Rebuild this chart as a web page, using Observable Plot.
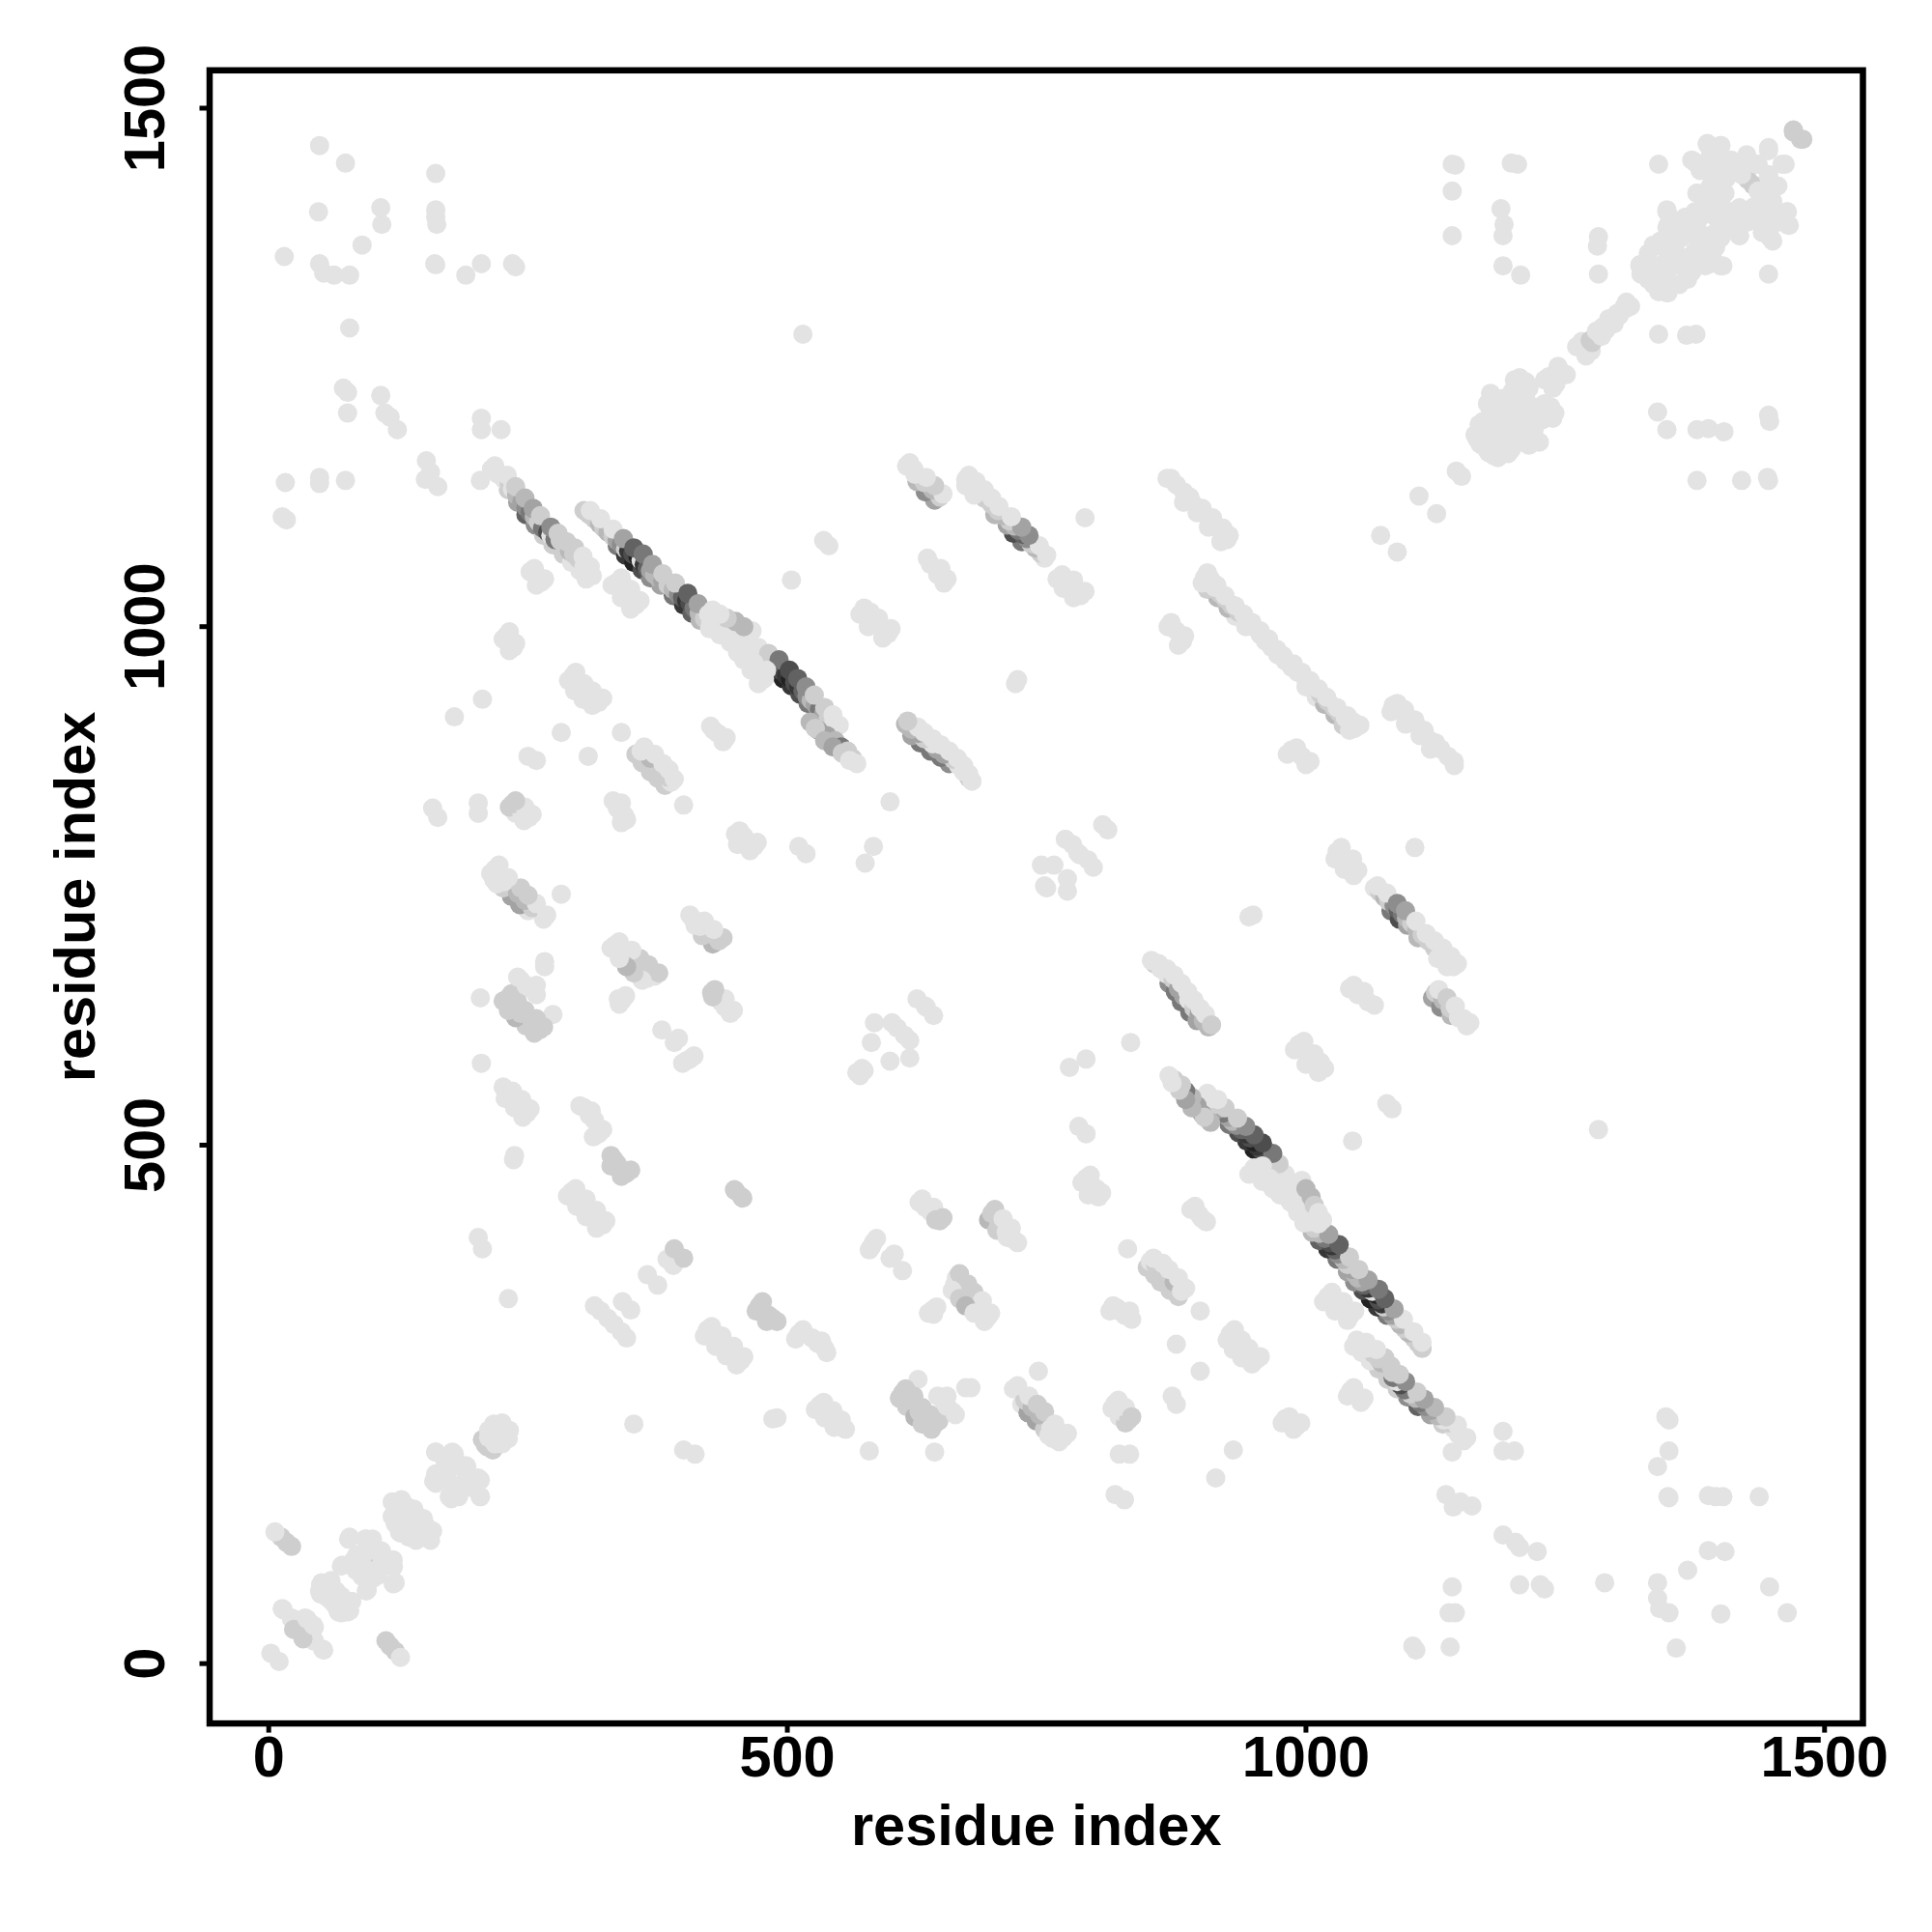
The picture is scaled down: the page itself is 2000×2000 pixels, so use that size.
<!DOCTYPE html>
<html>
<head>
<meta charset="utf-8">
<style>html,body{margin:0;padding:0;background:#fff}svg{display:block}</style>
<script src="https://cdn.jsdelivr.net/npm/d3@7"></script>
<script src="https://cdn.jsdelivr.net/npm/@observablehq/plot@0.6"></script>
</head>
<body>
<div id="chart"></div>
<script>
// each row: residue i, residue j, contact score (0 light .. 9 dark). The map is symmetric: each row also draws as (j, i).
const tickValues = [0, 500, 1000, 1500];
const axisTitle = "residue index";

const clusterLow = [
[2,10,0],[113,22,1],[117,17,1],[122,12,1],[127,6,0],
[13,53,0],[22,44,0],[29,35,1],[35,28,1],[43,22,0],[52,14,0],[35,44,0],[24,33,1],[43,37,0],
[50,76,0],[59,62,0],[50,67,0],[70,49,0],[78,51,0],[65,62,0],[70,65,0],[55,70,0],[60,80,0],[65,55,0],[75,60,0],
[77,120,0],[93,120,0],[70,94,0],[84,90,0],[99,108,1],[109,97,0],[120,94,0],[122,78,0],[95,71,0],[109,108,0],
[85,105,0],[100,120,0],[82,100,0],[90,95,0],[100,85,0],
[122,152,0],[134,151,0],[122,135,0],[138,129,0],[152,122,0],[142,119,0],[127,126,0],[156,119,0],[149,140,0],[130,145,0],[140,140,0],[128,158,0],
[161,204,0],[177,204,0],[161,183,0],[191,190,0],[202,179,0],[174,161,0],[204,161,0],[159,176,0],[184,172,0],[170,195,0],[185,190,0],[168,178,0],[180,165,0],
[216,229,0],[231,217,0],[209,211,1],[216,206,1],[220,220,0],[212,225,0],[225,232,0],[218,212,0],[228,226,0],
[314,345,0],[320,340,0],[327,333,0],[341,349,0],[365,375,0],[384,390,0],[391,400,1],[450,456,1],[457,449,1]
];
const clusterMid = [
[625,641,0],[633,634,0],[584,618,0],[601,618,0],[581,599,0],[572,574,0],[567,570,0],[606,613,0],
[804,809,0],[775,790,0],[782,780,0],[745,770,0],[757,770,0],[748,750,0],[768,795,0]
];
const clusterHighA = [
[1072,1088,0],[1109,1126,0],[1145,1150,0],
[1178,1225,0],[1199,1227,0],[1206,1224,0],[1212,1219,0],[1219,1211,0],[1228,1201,0],[1238,1201,0],
[1171,1198,0],[1183,1188,0],[1163,1185,0],[1176,1168,0],[1192,1175,0],[1199,1198,0],[1180,1211,0],[1189,1211,0],
[1171,1188,0],[1170,1175,0],[1181,1165,0],[1186,1201,0],[1197,1204,0],[1209,1188,0],[1199,1181,0],[1186,1181,0],
[1190,1195,0],[1205,1212,0],[1215,1200,0],[1175,1215,0],[1167,1195,0],[1180,1178,0],[1220,1190,0],[1208,1178,0],[1230,1215,0],[1235,1207,0],[1240,1206,0],[1236,1212,0],
[1232,1238,0],[1245,1247,0],[1238,1230,0],[1251,1243,0],[1241,1234,0],
[1261,1270,0],[1271,1263,0],[1266,1275,0],[1274,1276,1],[1280,1285,0],[1286,1289,0],[1297,1292,0],[1300,1302,0],[1307,1309,0],[1313,1309,0],[1292,1296,0]
];
const clusterHighB = [
[1322,1348,0],[1333,1345,1],[1340,1323,0],[1349,1322,0],[1335,1368,0],[1348,1400,0],[1349,1387,0],[1356,1368,0],
[1372,1387,0],[1379,1368,0],[1392,1355,0],[1402,1348,0],[1367,1341,0],[1385,1348,0],[1377,1418,0],[1389,1403,0],
[1402,1420,0],[1418,1404,0],[1418,1377,0],[1405,1390,0],[1389,1377,0],[1387,1466,0],[1400,1464,0],[1375,1448,0],
[1389,1444,0],[1405,1446,0],[1421,1444,0],[1426,1431,1],[1434,1446,0],[1446,1462,0],[1459,1446,0],[1446,1436,0],
[1436,1420,0],[1446,1418,0],[1446,1402,0],[1464,1400,0],[1465,1387,0],[1439,1387,0],[1447,1376,0],[1470,1479,1],[1477,1470,1],
[1330,1360,0],[1342,1372,0],[1345,1350,0],[1355,1385,0],[1362,1375,0],[1366,1395,0],[1375,1378,0],[1382,1360,0],[1392,1370,0],[1380,1395,0],[1395,1395,0],
[1398,1410,0],[1410,1400,0],[1412,1385,0],[1395,1425,0],[1385,1415,0],[1345,1335,0],[1335,1330,0],[1360,1350,0],[1370,1355,0],[1400,1375,0],[1425,1390,0],
[1432,1405,0],[1440,1410,0],[1450,1425,0],[1410,1450,0],[1425,1455,0],[1380,1440,0],[1393,1460,0],[1455,1390,0],[1440,1395,0],[1450,1372,0]
];
const bandA = [
[231,1132,1],[240,1120,3],[248,1108,6],[257,1098,4],[265,1088,1],[274,1079,1],[284,1070,1],[292,1062,0],[300,1054,0],[306,1046,0],
[215,1152,0],[221,1147,0],[227,1142,0],[232,1137,1],[235,1133,0],[239,1127,2],[244,1120,3],[248,1115,4],[252,1110,5],[256,1106,2],
[260,1101,1],[264,1095,5],[269,1091,7],[272,1088,0],[276,1084,5],[281,1083,1],[286,1077,1],[290,1073,2],[294,1070,1],[299,1065,1],
[304,1058,0],[308,1053,0],[312,1049,0],
[218,1155,0],[230,1146,0],[238,1135,1],[247,1124,2],[255,1114,3],[262,1107,1],[272,1096,4],[279,1090,1],[287,1082,1],[295,1076,1],[303,1068,0],[310,1058,0]
];
const bandB = [
[336,1078,5],[344,1069,8],[352,1062,9],[360,1055,7],[368,1047,4],[378,1040,3],[390,1030,5],[400,1021,8],[408,1013,6],[416,1006,2],
[480,963,3],[488,957,6],[496,950,9],[504,943,8],[512,935,7],[520,926,5],[530,913,4],[538,905,1],
[304,1112,1],[309,1108,1],[314,1104,1],[319,1099,2],[323,1095,1],[327,1091,2],[332,1087,1],[336,1083,3],[340,1079,4],[344,1075,1],
[347,1073,8],[351,1070,7],[356,1068,9],[359,1064,0],[362,1060,8],[365,1056,6],[368,1054,3],[372,1050,2],[376,1047,2],[380,1044,3],
[385,1040,1],[390,1036,2],[395,1031,4],[399,1028,6],[403,1025,8],[406,1023,7],[410,1018,5],[415,1013,2],[420,1008,1],[426,1004,0],
[432,1002,0],[438,998,1],[444,994,0],[450,992,0],[456,991,0],[462,984,0],[468,979,0],[473,972,1],[478,970,2],[483,967,3],
[487,964,5],[491,961,4],[495,957,7],[499,953,8],[503,950,9],[507,946,7],[511,942,8],[515,938,6],[519,933,4],[523,929,2],
[527,925,3],[531,920,5],[535,916,3],[539,911,1],[545,909,0],[550,905,0],
[310,1112,0],[320,1104,0],[332,1094,0],[342,1085,3],[352,1076,6],[361,1070,5],[370,1060,3],[380,1051,1],[392,1042,1],[404,1032,6],[414,1022,3],[424,1012,0],
[436,1005,0],[448,998,0],[460,992,0],[472,980,0],[482,974,1],[492,968,5],[502,958,7],[510,950,6],[518,942,4],[526,934,1],[536,922,1],[544,915,0],
[425,998,0],[435,992,0],[445,985,0],[452,975,0],[458,968,0],[470,960,0],[478,950,0],[472,945,0],[480,958,0]
];
const bandBSide = [
[522,908,2],[530,900,3],[538,895,3],[546,890,2],[552,884,5],[558,880,1],[563,873,1],[567,868,0],
[527,902,1],[536,890,2],[544,884,3],[553,878,1],[560,871,0],
[475,955,0],[468,965,0],[462,975,0],[455,985,0],[465,958,0],
[466,996,0],[458,1000,2],[450,1005,2],[442,1008,1],[435,1012,0],[428,1016,0]
];
const bandC = [
[1082,726,5],[1090,718,7],[1098,712,3],[1108,700,2],
[1066,748,0],[1071,744,1],[1076,739,2],[1080,735,1],[1085,731,4],[1089,727,6],[1093,723,5],[1097,719,2],[1102,714,1],[1107,708,2],
[1112,703,1],[1118,697,1],[1124,690,1],[1130,684,0],[1136,678,0],[1142,672,0],
[1069,750,0],[1078,743,0],[1088,733,4],[1096,726,3],[1106,716,0],[1116,704,0],[1124,697,0],[1132,690,0],[1140,682,0],[1146,675,0],[1127,680,0],[1136,672,0]
];
const bandD = [
[868,656,4],[874,648,5],[880,638,5],[888,628,5],[895,620,3],
[854,675,1],[860,670,0],[866,665,0],[872,660,1],[877,651,3],[882,644,3],[887,640,0],[892,632,1],[897,626,3],[901,620,2],[906,614,2],
[851,678,0],[858,675,0],[866,670,0],[873,664,0],[880,656,0],[886,648,0],[892,640,0],[898,632,0],[903,626,0],[909,616,1]
];
const bandE = [
[1000,942,0],[1010,932,0],[1018,925,2],[1028,915,2],[1036,905,1],[1042,900,0],
[973,973,0],[980,967,0],[986,961,0],[992,956,0],[1000,948,0],[1007,942,0],[1014,935,1],[1021,928,1],[1027,922,1],[1032,917,1],[1038,912,0],[1043,907,0],[1047,902,0],
[978,972,0],[988,964,0],[996,956,0],[1004,948,0],[1012,940,0],[1020,932,0],[1030,922,0],[1040,914,0],[1046,908,0],[1052,905,0],
[1084,924,0],[1090,919,0],[1096,914,0],[1102,908,0],[1110,900,0],[1120,890,0],[1130,882,0],[1143,870,0],
[1088,926,0],[1095,920,0],[1105,910,0],[1114,900,0],[1125,888,0],[1082,918,0],[1096,906,0],[1110,895,0],[1120,882,0],[1137,875,0],[1143,866,0]
];
const shortStrands = [
[1122,642,3],[1130,633,4],[1140,625,2],
[1125,647,1],[1132,640,2],[1139,632,1],[1147,623,0],[1155,615,0],
[1128,650,0],[1136,642,1],[1144,634,0],[1152,622,0],[1158,618,0],
[986,881,0],[1000,867,0],[991,883,0],[1004,870,0],[996,875,0],[982,877,0],
[993,597,0],[1003,584,0],[1018,574,0],[998,600,0],[1008,588,0],[1014,580,0],[989,592,0],[1000,578,0],[1012,570,0],
[1030,783,0],[1040,772,0],[1050,765,0],[1034,787,0],[1045,776,0],[1028,776,0],[1037,766,0],[1046,760,0],
[1105,787,0],[1042,651,0],[1050,645,0],[1066,635,0],[1046,654,0],[1056,648,0],[1060,638,0],
[1078,540,0],[1083,535,0],[1045,504,0],[1282,515,0],[949,722,0],[945,720,0],
[788,583,0],[772,575,0],[831,599,0],[781,518,0],[788,511,0],
[788,468,0],[793,461,0],[800,450,0],[792,471,0],[784,464,0],[798,458,0],[790,452,0],[803,454,0],
[627,445,0],[638,436,0],[647,427,1],[630,448,0],[641,440,0],[650,430,1],[633,440,0],[643,428,1],
[694,428,2],[702,418,1],[697,434,1],[704,425,1],[711,416,0],[718,409,0],[700,438,1],[708,429,0],[716,420,0],[712,411,0],[722,406,0],
[583,406,0],[581,402,0],[599,391,0],[611,379,0],[586,410,0],[603,395,0],[579,399,0],
[663,372,0],[661,365,0],[670,361,1],[667,358,1],[675,354,0],[683,345,0],[693,334,0],
[666,376,1],[674,366,1],[680,358,1],[688,350,0],[696,338,0],[659,360,0],[666,352,1],[672,345,2],[680,338,0],[690,330,0],
[640,341,0],[641,337,0],[644,344,0],[636,338,0],
[473,345,1],[482,336,1],[486,333,1],[511,318,0],[529,309,0],[536,304,0],
[476,349,1],[470,340,1],[480,330,1],[490,330,1],[515,322,0],[508,313,0],[524,314,0],[533,311,0],[538,300,0],
[531,249,0],[540,240,0],[549,231,0],[556,226,0],[486,236,0],[490,237,0],[535,252,0],[544,244,0],[552,235,0],[527,245,0],[536,237,0],[545,228,0],
[423,322,0],[434,311,0],[444,302,0],[455,292,0],[427,325,0],[437,316,0],[448,306,0],[458,296,0],[420,316,0],[431,306,0],[441,297,0],[451,288,0],
[352,231,0],[400,206,0],[411,202,0],
[608,256,1],[615,248,1],[623,238,2],[630,231,1],[639,226,1],
[611,261,1],[618,254,1],[626,274,0],[627,243,1],[634,236,1],[642,231,1],[642,204,0],[579,205,0],[650,254,0],[659,243,0],[677,266,0],[672,266,0],
[614,265,1],[622,258,1],[630,247,1],[638,240,1],[646,234,1],[645,258,0],[654,248,0],[662,240,0],[654,258,0],
[726,250,0],[732,242,3],[740,234,3],[748,226,1],[752,220,0],[762,214,0],
[718,265,0],[729,254,1],[736,247,2],[743,240,2],[754,227,0],[766,218,0],[756,217,0],[742,282,0],
[722,268,0],[733,258,0],[741,250,1],[748,243,1],[758,231,0],[770,222,0],
[813,246,0],[820,238,0],[826,232,1],[816,251,0],[823,243,0],[829,235,1],[819,254,0],[826,247,0],[832,238,1],
[820,202,0],[830,202,0],[816,163,0],[825,158,0],[871,258,0],[875,250,0],
[875,308,0],[898,340,0],[898,282,0],[930,206,0],[913,179,0],[814,345,0],[825,336,0],[820,340,0],[828,400,0],[811,340,0],[818,343,0],[830,340,0],[832,332,0],
[847,382,1],[854,375,1],[860,368,1],[869,360,1],[877,354,1],
[850,388,0],[855,385,1],[859,382,1],[864,375,1],[869,371,1],[873,368,2],[880,359,0],
[853,391,0],[862,386,0],[868,380,0],[877,372,0],[884,362,0],
[889,438,0],[900,429,0],[893,441,0],[897,433,0],[904,426,0],
[927,318,0],[934,308,0],[941,300,0],[952,293,0],[931,322,0],[938,312,0],[945,304,0],[956,296,0],[924,312,0],[930,303,0],[938,295,0],[948,289,0],
[980,236,0],[991,229,0],[984,238,0],[995,232,0],[977,232,0],[988,226,0],
[1021,354,0],[1032,345,0],[1043,336,0],[1025,358,0],[1036,349,0],[1047,340,0],[1017,349,0],[1028,340,0],[1040,331,0],
[1043,263,0],[1053,252,0],[1046,266,0],[1056,256,0],[1040,258,0]
];
const scattered = [
[1190,224,0],[1190,205,0],[1201,205,0],[1141,204,0],[1152,215,0],
[1135,163,0],[1149,156,0],[1160,152,0],[1142,151,0],
[1190,124,0],[1202,117,0],[1206,112,0],[1223,108,0],[1141,74,0],[1144,49,0],[1138,49,0],[1103,17,0],[1106,13,0],[1139,16,0],
[1206,76,0],[1226,76,0],[1230,72,0],[1288,78,0],
[1347,238,0],[1350,235,0],[1350,205,0],[1339,190,0],[1349,161,0],[1350,160,0],[1388,162,0],[1395,161,0],[1402,161,0],[1437,161,0],
[1388,109,0],[1404,108,0],[1368,90,0],[1339,78,0],[1339,63,0],[1341,53,0],[1350,49,0],[1400,48,0],[1447,74,0],[1464,49,0],[1357,15,0],
[1339,1207,0],[1348,1190,0],[1377,1190,0],[1388,1191,0],[1403,1188,0],[1446,1204,0],[1447,1198,0],
[1377,1141,0],[1420,1141,0],[1445,1144,0],[1446,1141,0],[1340,1282,0],[1367,1281,0],[1376,1282,0],[1446,1340,0]
];

const contacts = [clusterLow, clusterMid, clusterHighA, clusterHighB, shortStrands, scattered, bandA, bandB, bandBSide, bandC, bandD, bandE]
  .flat()
  .flatMap(([i, j, score]) => [{i, j, score}, {i: j, j: i, score}]);

const chart = Plot.plot({
  width: 2000,
  height: 2000,
  marginLeft: 216.5,
  marginRight: 72,
  marginTop: 72.3,
  marginBottom: 216.4,
  x: {domain: [-57, 1537]},
  y: {domain: [-57.7, 1536.5]},
  color: {type: "linear", domain: [0, 9], range: ["#e3e3e3", "#222222"]},
  style: {background: "#fff", fontFamily: "'Liberation Sans', Arial, sans-serif"},
  marks: [
    Plot.dot(contacts, {x: "i", y: "j", fill: "score", r: 10}),
    Plot.frame({stroke: "#000", strokeWidth: 6.5}),
    Plot.axisX({ticks: tickValues, tickSize: 10, tickPadding: 3, strokeWidth: 5, tickFormat: d => String(d),
      fontSize: 59.5, fontWeight: "bold", fill: "#000", label: axisTitle, labelAnchor: "center", labelArrow: "none", labelOffset: 126}),
    Plot.axisY({ticks: tickValues, tickSize: 10, tickPadding: 37, strokeWidth: 5, tickRotate: -90, tickFormat: d => String(d),
      fontSize: 59.5, fontWeight: "bold", fill: "#000", label: axisTitle, labelAnchor: "center", labelArrow: "none", labelOffset: 161})
  ]
});
document.getElementById("chart").appendChild(chart);
</script>
</body>
</html>
